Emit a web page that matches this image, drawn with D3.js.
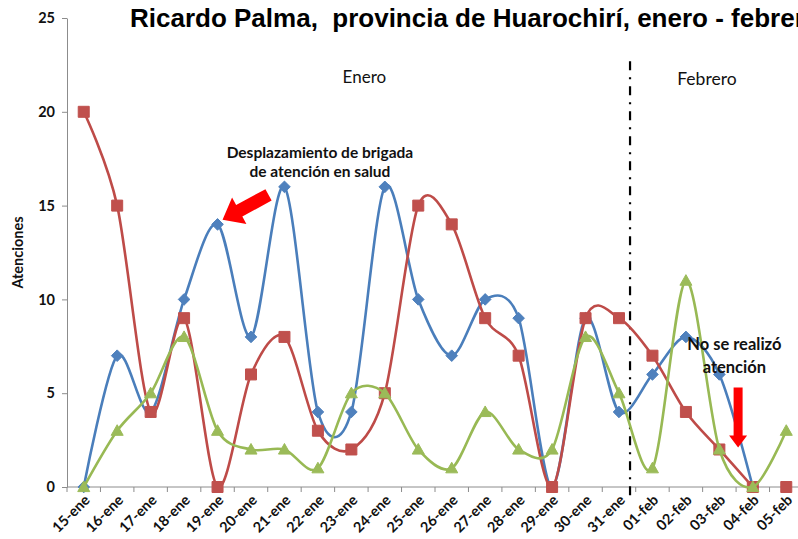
<!DOCTYPE html>
<html><head><meta charset="utf-8">
<script src="https://cdn.jsdelivr.net/npm/d3@7"></script>
<style>body{margin:0;background:#fff;overflow:hidden} svg{display:block}</style>
</head><body><svg id="c" width="798" height="539"></svg>
<script>
const categories = ["15-ene","16-ene","17-ene","18-ene","19-ene","20-ene","21-ene","22-ene","23-ene","24-ene","25-ene","26-ene","27-ene","28-ene","29-ene","30-ene","31-ene","01-feb","02-feb","03-feb","04-feb","05-feb"];
const seriesBlue  = [0,7,4,10,14,8,16,4,4,16,10,7,10,9,0,9,4,6,8,6,0,null];
const seriesRed   = [20,15,4,9,0,6,8,3,2,5,15,14,9,7,0,9,9,7,4,2,0,0];
const seriesGreen = [0,3,5,8,3,2,2,1,5,5,2,1,4,2,2,8,5,1,11,2,0,3];
const redMarkerOnly = ["05-feb"];
const yTicks = [0,5,10,15,20,25];
const titleText = "Ricardo Palma,  provincia de Huarochirí, enero - febrero";
const yTitle = "Atenciones";
const monthLabels = ["Enero","Febrero"];
const note1 = ["Desplazamiento de brigada","de atención en salud"];
const note2 = ["No se realizó","atención"];

const svg = d3.select("#c");
const F = "Lato, 'Open Sans', sans-serif";
const x = d3.scaleBand().domain(categories).range([67, 803]);
const bw = x.bandwidth();
const xc = c => x(c) + bw/2;
const y = d3.scaleLinear().domain([0,25]).range([487,18]);

// Title
svg.append("text").attr("x",130).attr("y",27)
  .attr("font-family","Arial, 'Liberation Sans', sans-serif").attr("font-weight","bold")
  .attr("font-size",26).style("white-space","pre").attr("fill","#000").text(titleText);

// Y axis
const ya = svg.append("g").attr("transform","translate(67,0)")
  .call(d3.axisLeft(y).tickValues(yTicks).tickSize(5).tickSizeOuter(0).tickPadding(7));
ya.select(".domain").attr("stroke","#8c8c8c");
ya.selectAll(".tick line").attr("stroke","#8c8c8c");
ya.selectAll("text").attr("font-family",F).attr("font-weight","bold").attr("font-size",14.5).attr("fill","#111");

svg.append("text").attr("transform",`translate(23,${y(12.5)}) rotate(-90)`)
  .attr("text-anchor","middle").attr("font-family",F).attr("font-weight","bold")
  .attr("font-size",14.5).attr("fill","#111").text(yTitle);

// X axis
const xa = svg.append("g");
xa.append("line").attr("x1",67).attr("x2",803).attr("y1",y(0)).attr("y2",y(0)).attr("stroke","#8c8c8c");
xa.selectAll("line.tk").data(categories.concat(["__end"])).join("line").attr("class","tk")
  .attr("x1",(d,i)=> i<categories.length ? x(d) : 803).attr("x2",(d,i)=> i<categories.length ? x(d) : 803)
  .attr("y1",y(0)).attr("y2",y(0)+5).attr("stroke","#8c8c8c");
xa.selectAll("text").data(categories).join("text")
  .attr("transform",d=>`translate(${xc(d)+7},${y(0)+14}) rotate(-45)`)
  .attr("text-anchor","end").attr("font-family",F).attr("font-weight","bold")
  .attr("font-size",14.5).attr("fill","#111").text(d=>d);

// Month separator
const sepX = xc("31-ene") + bw*0.33;
svg.append("line").attr("x1",sepX).attr("x2",sepX).attr("y1",y(22.7)).attr("y2",y(0)+12)
  .attr("stroke","#000").attr("stroke-width",2.2).attr("stroke-dasharray","9,7,2,7");

svg.append("text").attr("x",xc("23-ene")+13).attr("y",83).attr("text-anchor","middle")
  .attr("font-family",F).attr("font-size",17).attr("fill","#111").text(monthLabels[0]);
svg.append("text").attr("x",xc("02-feb")+21).attr("y",85).attr("text-anchor","middle")
  .attr("font-family",F).attr("font-size",17.5).attr("fill","#111").text(monthLabels[1]);

// Series
const series = [
  {vals: seriesBlue, line:"#4A7EBB", fill:"#4F81BD", shape:"diamond", markerOnly:[]},
  {vals: seriesRed, line:"#BE4B48", fill:"#C0504D", shape:"square", markerOnly:redMarkerOnly},
  {vals: seriesGreen, line:"#98B954", fill:"#9BBB59", shape:"triangle", markerOnly:[]}
];
const shapes = {
  diamond: "M0,-5.8L5.8,0L0,5.8L-5.8,0Z",
  square: "M-5.5,-5.5H5.5V5.5H-5.5Z",
  triangle: "M0,-6L6,4.6H-6Z"
};
series.forEach(s => {
  const pts = categories.map((c,i)=>({c, v:s.vals[i]}));
  const linePts = pts.filter(p => !s.markerOnly.includes(p.c));
  const gen = d3.line().defined(p=>p.v!=null).x(p=>xc(p.c)).y(p=>y(p.v)).curve(d3.curveCardinal.tension(0.1));
  svg.append("path").attr("d",gen(linePts)).attr("fill","none").attr("stroke",s.line).attr("stroke-width",2.6);
  svg.append("g").selectAll("path").data(pts.filter(p=>p.v!=null)).join("path")
    .attr("transform",p=>`translate(${xc(p.c)},${y(p.v)})`).attr("d",shapes[s.shape])
    .attr("fill",s.fill).attr("stroke",s.fill).attr("stroke-width",1);
});

// Annotation 1
const n1x = (xc("21-ene")+xc("23-ene"))/2+2;
svg.append("g").selectAll("text").data(note1).join("text")
  .attr("x",n1x).attr("y",(d,i)=>158+i*19).attr("text-anchor","middle")
  .attr("font-family",F).attr("font-weight","bold").attr("font-size",15.5).attr("fill","#111").text(d=>d);
// arrow 1 pointing to 19-ene peak
{
  const tip=[xc("19-ene")+5, y(seriesBlue[4])-4.5], tail=[tip[0]+46, tip[1]-25];
  const L=Math.hypot(tail[0]-tip[0], tail[1]-tip[1]);
  const ang=Math.atan2(tip[1]-tail[1], tip[0]-tail[0])*180/Math.PI;
  const bwid=6.5, hw=15, hl=19;
  const p=`M0,${-bwid}L${L-hl},${-bwid}L${L-hl},${-hw}L${L},0L${L-hl},${hw}L${L-hl},${bwid}L0,${bwid}Z`;
  svg.append("path").attr("d",p).attr("transform",`translate(${tail[0]},${tail[1]}) rotate(${ang})`).attr("fill","#FF0000");
}
// Annotation 2
const n2x = xc("03-feb")+15;
svg.append("g").selectAll("text").data(note2).join("text")
  .attr("x",n2x).attr("y",(d,i)=>350+i*23).attr("text-anchor","middle")
  .attr("font-family",F).attr("font-weight","bold").attr("font-size",16.5).attr("fill","#111").text(d=>d);
{
  const ax = xc("04-feb") - bw*0.44, ty=y(5.3), tp=y(2.1);
  const p=`M${ax-4.5},${ty}H${ax+4.5}V${tp-12}H${ax+9}L${ax},${tp}L${ax-9},${tp-12}H${ax-4.5}Z`;
  svg.append("path").attr("d",p).attr("fill","#FF0000");
}
</script></body></html>
